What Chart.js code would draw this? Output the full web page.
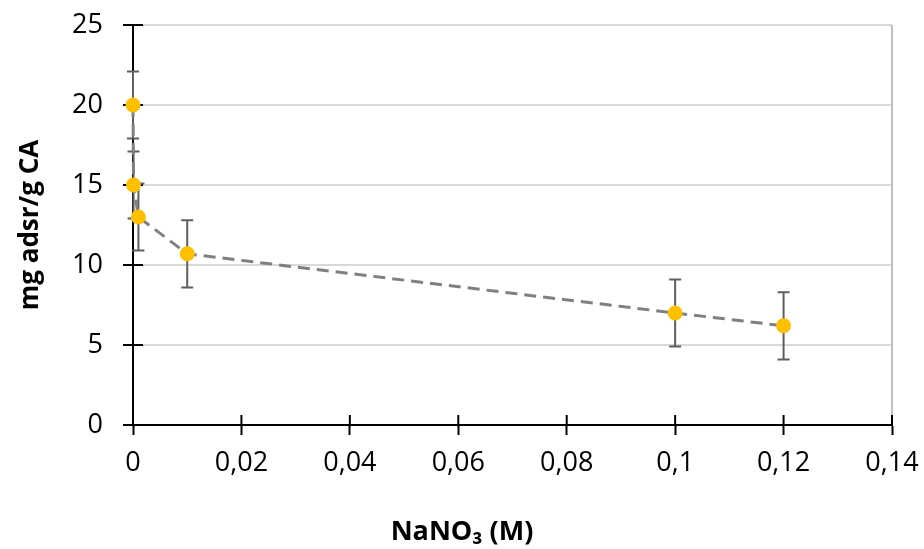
<!DOCTYPE html>
<html>
<head>
<meta charset="utf-8">
<script src="https://cdn.jsdelivr.net/npm/chart.js@4.4.1/dist/chart.umd.min.js"></script>
<style>
  html, body { margin: 0; padding: 0; background: #ffffff; }
  #wrap { width: 924px; height: 549px; }
</style>
</head>
<body>
<div id="wrap"><canvas id="c" width="924" height="549"></canvas></div>
<script>
// ---- data ----
const concentrations = [0, 0.0001, 0.001, 0.01, 0.1, 0.12];   // NaNO3 (M)
const adsorbed = [20, 15, 13, 10.7, 7.0, 6.2];                 // mg adsr / g CA
const errors = [2.1, 2.1, 2.1, 2.1, 2.1, 2.1];
const xTicks = [0, 0.02, 0.04, 0.06, 0.08, 0.1, 0.12, 0.14];
const yTicks = [0, 5, 10, 15, 20, 25];
const xTitle = 'NaNO\u2083 (M)';
const yTitle = 'mg adsr/g CA';

const points = concentrations.map((x, i) => ({ x: x, y: adsorbed[i] }));

const FONT = '"Open Sans", "Liberation Sans", sans-serif';

const extrasPlugin = {
  id: 'extras',
  beforeDatasetsDraw(chart) {
    const ctx = chart.ctx;
    const xs = chart.scales.x, ys = chart.scales.y;
    const area = chart.chartArea;
    ctx.save();
    // right border of plot area
    ctx.strokeStyle = '#bfbfbf';
    ctx.lineWidth = 2;
    ctx.beginPath();
    ctx.moveTo(area.right, area.top);
    ctx.lineTo(area.right, area.bottom);
    ctx.stroke();
    // inner halves of crossing ticks
    ctx.strokeStyle = '#000000';
    ctx.lineWidth = 2;
    yTicks.forEach(v => {
      const py = ys.getPixelForValue(v);
      ctx.beginPath();
      ctx.moveTo(area.left, py);
      ctx.lineTo(area.left + 10, py);
      ctx.stroke();
    });
    xTicks.forEach(v => {
      const px = xs.getPixelForValue(v);
      ctx.beginPath();
      ctx.moveTo(px, area.bottom);
      ctx.lineTo(px, area.bottom - 10);
      ctx.stroke();
    });
    // error bars
    ctx.strokeStyle = '#5f5f5f';
    ctx.lineWidth = 2;
    concentrations.forEach((x, i) => {
      const px = xs.getPixelForValue(x);
      const top = ys.getPixelForValue(adsorbed[i] + errors[i]);
      const bot = ys.getPixelForValue(adsorbed[i] - errors[i]);
      ctx.beginPath();
      ctx.moveTo(px, top); ctx.lineTo(px, bot);
      ctx.moveTo(px - 6, top); ctx.lineTo(px + 6, top);
      ctx.moveTo(px - 6, bot); ctx.lineTo(px + 6, bot);
      ctx.stroke();
    });
    ctx.restore();
  }
};

new Chart(document.getElementById('c'), {
  type: 'scatter',
  data: {
    datasets: [{
      data: points,
      showLine: true,
      clip: false,
      borderColor: '#808080',
      borderWidth: 3,
      borderDash: [12, 7],
      pointBackgroundColor: '#FFC000',
      pointBorderColor: '#FFC000',
      pointBorderWidth: 0,
      pointRadius: 7.5,
      pointHoverRadius: 7.5,
      fill: false,
      tension: 0
    }]
  },
  options: {
    responsive: false,
    animation: false,
    events: [],
    layout: { autoPadding: false, padding: { top: 25, right: 0, bottom: 0, left: 0 } },
    plugins: {
      legend: { display: false },
      tooltip: { enabled: false },
      title: {
        display: true,
        position: 'bottom',
        text: xTitle,
        color: '#000000',
        font: { family: FONT, size: 27, weight: 'bold', lineHeight: 1.2 },
        padding: { top: 0, bottom: 0 }
      }
    },
    scales: {
      x: {
        type: 'linear',
        min: 0,
        max: 0.14,
        afterBuildTicks(scale) { scale.ticks = xTicks.map(v => ({ value: v })); },
        afterFit(scale) {
          scale.height = 124 - 32.4;
          scale.paddingLeft = 0; scale.paddingRight = 32;
        },
        ticks: {
          color: '#000000',
          font: { family: FONT, size: 27 },
          padding: 12,
          maxRotation: 0,
          callback: v => String(Math.round(v * 100) / 100).replace('.', ',')
        },
        grid: {
          drawOnChartArea: false,
          drawTicks: true,
          tickLength: 10,
          tickColor: '#000000',
          tickWidth: 2
        },
        border: { display: true, color: '#000000', width: 2 }
      },
      y: {
        type: 'linear',
        min: 0,
        max: 25,
        afterBuildTicks(scale) { scale.ticks = yTicks.map(v => ({ value: v })); },
        afterFit(scale) {
          scale.width = 133;
          scale.paddingTop = 0; scale.paddingBottom = 0;
        },
        ticks: {
          color: '#000000',
          font: { family: FONT, size: 27 },
          padding: 20
        },
        grid: {
          color: ctx => (ctx.tick && ctx.tick.value === 0) ? 'rgba(0,0,0,0)' : '#d9d9d9',
          lineWidth: 2,
          drawTicks: true,
          tickLength: 10,
          tickColor: '#000000',
          tickWidth: 2
        },
        border: { display: true, color: '#000000', width: 2 },
        title: {
          display: true,
          text: yTitle,
          color: '#000000',
          font: { family: FONT, size: 26, weight: 'bold', lineHeight: 1.2 },
          padding: { top: 15, bottom: 0 }
        }
      }
    }
  },
  plugins: [extrasPlugin]
});
</script>
</body>
</html>
